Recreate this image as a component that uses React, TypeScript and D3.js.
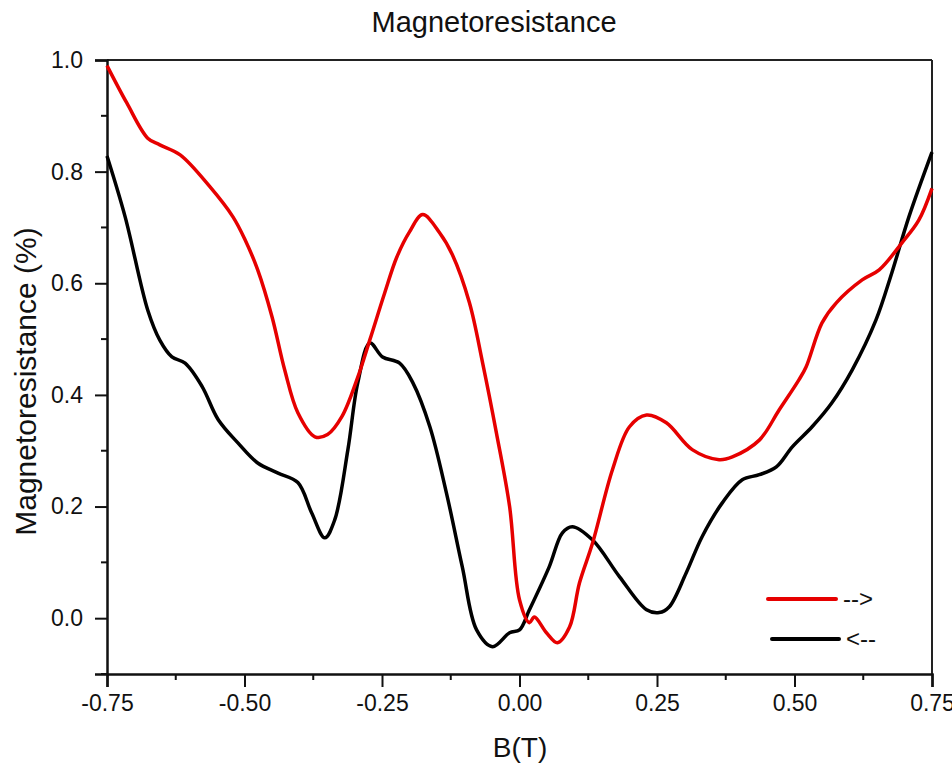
import { useEffect, useRef } from 'react';
import * as d3 from 'd3';

// sweep up (-->)
const upField = [-0.75, -0.714, -0.676, -0.654, -0.617, -0.563, -0.521, -0.499, -0.476, -0.45, -0.427, -0.403, -0.372, -0.349, -0.323, -0.294, -0.272, -0.245, -0.223, -0.2, -0.176, -0.145, -0.122, -0.091, -0.067, -0.042, -0.018, 0.0, 0.018, 0.027, 0.049, 0.069, 0.091, 0.109, 0.133, 0.169, 0.2, 0.231, 0.267, 0.314, 0.363, 0.387, 0.436, 0.472, 0.508, 0.521, 0.55, 0.576, 0.623, 0.654, 0.695, 0.726, 0.75];
const upMR = [0.99, 0.923, 0.86, 0.848, 0.83, 0.773, 0.719, 0.678, 0.624, 0.54, 0.445, 0.368, 0.325, 0.329, 0.361, 0.432, 0.499, 0.583, 0.647, 0.692, 0.723, 0.69, 0.651, 0.565, 0.457, 0.332, 0.2, 0.033, -0.008, 0.002, -0.026, -0.044, -0.016, 0.063, 0.135, 0.266, 0.343, 0.364, 0.35, 0.302, 0.284, 0.289, 0.319, 0.373, 0.427, 0.45, 0.529, 0.565, 0.606, 0.624, 0.672, 0.713, 0.77];

// sweep down (<--)
const downField = [-0.75, -0.717, -0.676, -0.654, -0.632, -0.608, -0.577, -0.548, -0.512, -0.476, -0.439, -0.403, -0.378, -0.354, -0.336, -0.312, -0.294, -0.272, -0.249, -0.218, -0.194, -0.163, -0.133, -0.104, -0.078, -0.049, -0.018, 0.0, 0.018, 0.054, 0.078, 0.096, 0.133, 0.182, 0.231, 0.254, 0.272, 0.303, 0.332, 0.369, 0.405, 0.436, 0.467, 0.496, 0.532, 0.568, 0.605, 0.648, 0.677, 0.708, 0.75];
const downMR = [0.828, 0.719, 0.552, 0.498, 0.468, 0.457, 0.415, 0.356, 0.314, 0.278, 0.26, 0.243, 0.189, 0.144, 0.176, 0.302, 0.422, 0.493, 0.468, 0.457, 0.422, 0.343, 0.225, 0.092, -0.021, -0.051, -0.026, -0.021, 0.015, 0.092, 0.153, 0.164, 0.14, 0.074, 0.015, 0.01, 0.02, 0.081, 0.146, 0.207, 0.248, 0.257, 0.271, 0.307, 0.343, 0.386, 0.445, 0.534, 0.619, 0.719, 0.835];

const xTicks = [-0.75, -0.5, -0.25, 0, 0.25, 0.5, 0.75];
const yTicks = [0, 0.2, 0.4, 0.6, 0.8, 1.0];

const App = () => {
  const svgRef = useRef<SVGSVGElement>(null);

  useEffect(() => {
    const svg = d3.select(svgRef.current);
    svg.selectAll('*').remove();

    const width = 952;
    const height = 767;
    const left = 107, right = 932, top = 60, bottom = 674;
    const font = '"Liberation Sans", Arial, sans-serif';

    svg.attr('width', width).attr('height', height);

    const x = d3.scaleLinear().domain([-0.75, 0.75]).range([left, right]);
    const y = d3.scaleLinear().domain([-0.1, 1.0]).range([bottom, top]);

    // frame
    svg.append('line').attr('x1', left).attr('x2', right).attr('y1', top).attr('y2', top)
      .attr('stroke', '#222').attr('stroke-width', 2);
    svg.append('line').attr('x1', right).attr('x2', right).attr('y1', top).attr('y2', bottom)
      .attr('stroke', '#222').attr('stroke-width', 2);

    // x axis
    const xAxis = d3.axisBottom(x)
      .tickValues(xTicks)
      .tickFormat(d3.format('.2f'))
      .tickSize(13)
      .tickPadding(8);
    const gx = svg.append('g').attr('transform', `translate(0,${bottom})`).call(xAxis);
    gx.select('.domain').attr('stroke', '#111').attr('stroke-width', 2.5);
    gx.selectAll('.tick line').attr('stroke', '#111').attr('stroke-width', 2);
    gx.selectAll('.tick text')
      .attr('font-family', font).attr('font-size', 23).attr('fill', '#111')
      .text((d: any) => d3.format('.2f')(d).replace('−', '-'));
    gx.selectAll('.minor')
      .data(d3.range(-0.625, 0.75, 0.25))
      .enter().append('line')
      .attr('x1', d => x(d)).attr('x2', d => x(d))
      .attr('y1', 0).attr('y2', 6)
      .attr('stroke', '#111').attr('stroke-width', 2);

    // y axis
    const yAxis = d3.axisLeft(y)
      .tickValues(yTicks)
      .tickFormat(d3.format('.1f'))
      .tickSize(12)
      .tickPadding(12);
    const gy = svg.append('g').attr('transform', `translate(${left},0)`).call(yAxis);
    gy.select('.domain').attr('stroke', '#111').attr('stroke-width', 2.5);
    gy.selectAll('.tick line').attr('stroke', '#111').attr('stroke-width', 2);
    gy.selectAll('.tick text')
      .attr('font-family', font).attr('font-size', 23).attr('fill', '#111');
    gy.selectAll('.minor')
      .data([-0.1, 0.1, 0.3, 0.5, 0.7, 0.9])
      .enter().append('line')
      .attr('y1', d => y(d)).attr('y2', d => y(d))
      .attr('x1', 0).attr('x2', -6)
      .attr('stroke', '#111').attr('stroke-width', 2);

    // curves
    const line = d3.line<[number, number]>()
      .x(d => x(d[0]))
      .y(d => y(d[1]))
      .curve(d3.curveCatmullRom.alpha(0.5));

    const downData = downField.map((b, i) => [b, downMR[i]] as [number, number]);
    const upData = upField.map((b, i) => [b, upMR[i]] as [number, number]);

    svg.append('path')
      .attr('d', line(downData))
      .attr('fill', 'none')
      .attr('stroke', '#000')
      .attr('stroke-width', 3.5)
      .attr('stroke-linejoin', 'round');

    svg.append('path')
      .attr('d', line(upData))
      .attr('fill', 'none')
      .attr('stroke', '#e60000')
      .attr('stroke-width', 3.5)
      .attr('stroke-linejoin', 'round');

    // legend
    const legend = [
      { label: '-->', color: '#e60000', x0: 768, x1: 836, yy: 599 },
      { label: '<--', color: '#000', x0: 772, x1: 839, yy: 639 },
    ];
    legend.forEach(l => {
      svg.append('line')
        .attr('x1', l.x0).attr('x2', l.x1).attr('y1', l.yy).attr('y2', l.yy)
        .attr('stroke', l.color).attr('stroke-width', 4).attr('stroke-linecap', 'round');
      svg.append('text')
        .attr('x', l.x1 + 7).attr('y', l.yy)
        .attr('dy', '0.35em')
        .attr('font-family', font).attr('font-size', 24).attr('fill', '#111')
        .text(l.label);
    });

    // titles
    svg.append('text')
      .attr('x', 494).attr('y', 32)
      .attr('text-anchor', 'middle')
      .attr('font-family', font).attr('font-size', 29).attr('fill', '#111')
      .text('Magnetoresistance');

    svg.append('text')
      .attr('x', 520).attr('y', 757)
      .attr('text-anchor', 'middle')
      .attr('font-family', font).attr('font-size', 28).attr('fill', '#111')
      .text('B(T)');

    svg.append('text')
      .attr('transform', `translate(36,${(223 + 540) / 2}) rotate(-90)`)
      .attr('text-anchor', 'middle')
      .attr('font-family', font).attr('font-size', 30).attr('fill', '#111')
      .text('Magnetoresistance (%)');
  }, []);

  return (
    <div style={{ position: 'absolute', left: 0, top: 0 }}>
      <svg ref={svgRef}></svg>
    </div>
  );
};

export default App;
